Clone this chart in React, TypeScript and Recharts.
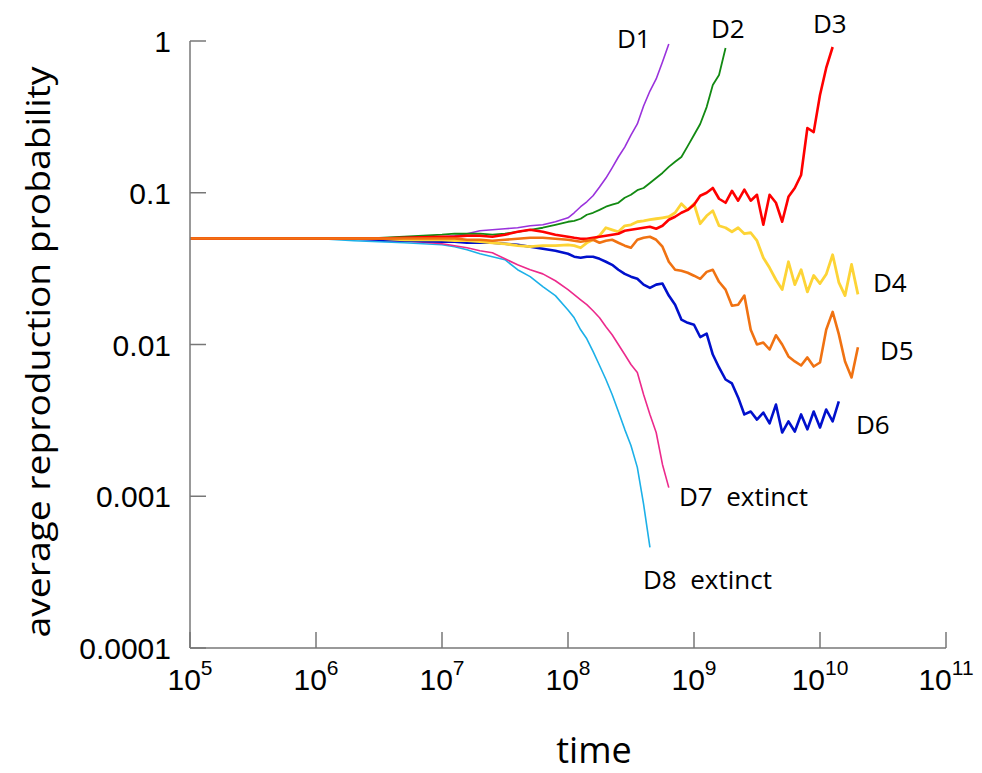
import { LineChart, Line, XAxis, YAxis } from 'recharts';

// time grid (shared by every run)
const times = [
  1e5, 1e6, 2e6, 3.16e6, 5.01e6, 1e7, 1.26e7, 1.58e7, 2e7, 2.51e7, 3.16e7, 3.98e7, 5.01e7, 6.31e7, 7.94e7,
  1e8, 1.12e8, 1.26e8, 1.41e8, 1.58e8, 1.78e8, 2e8, 2.24e8, 2.51e8, 2.82e8, 3.16e8, 3.55e8, 3.98e8, 4.47e8, 5.01e8,
  5.62e8, 6.31e8, 7.08e8, 7.94e8, 8.91e8,
  1e9, 1.12e9, 1.26e9, 1.41e9, 1.58e9, 1.78e9, 2e9, 2.24e9, 2.51e9, 2.82e9, 3.16e9, 3.55e9, 3.98e9, 4.47e9, 5.01e9,
  5.62e9, 6.31e9, 7.08e9, 7.94e9, 8.91e9,
  1e10, 1.12e10, 1.26e10, 1.41e10, 1.58e10, 1.78e10, 2e10,
];

// average reproduction probability per run
const d1 = [0.05, 0.05, 0.05, 0.05, 0.0505, 0.0513, 0.0521, 0.0537, 0.0562, 0.057, 0.0579, 0.0588, 0.0606, 0.0615, 0.0644,
  0.0684, 0.0738, 0.0809, 0.0872, 0.0955, 0.109, 0.125, 0.146, 0.172, 0.2, 0.24, 0.284, 0.373, 0.468, 0.562, 0.727, 0.955];
const d2 = [0.05, 0.05, 0.05, 0.0505, 0.0513, 0.0529, 0.0537, 0.0537, 0.0537, 0.0529, 0.0537, 0.0553, 0.057, 0.0588, 0.0615,
  0.0644, 0.0653, 0.0674, 0.0716, 0.0738, 0.0771, 0.0809, 0.0834, 0.0859, 0.0927, 0.097, 0.104, 0.1075, 0.116, 0.125,
  0.135, 0.148, 0.16, 0.172, 0.203, 0.24, 0.284, 0.367, 0.513, 0.597, 0.9];
const d3 = [0.05, 0.05, 0.05, 0.05, 0.0505, 0.0513, 0.0513, 0.0521, 0.0521, 0.0513, 0.0529, 0.0553, 0.057, 0.0553, 0.0529,
  0.0513, 0.0505, 0.0498, 0.0498, 0.0505, 0.0513, 0.0521, 0.0529, 0.0537, 0.0562, 0.057, 0.0579, 0.0588, 0.0597, 0.0579,
  0.0606, 0.0664, 0.0695, 0.0738, 0.0771, 0.0834, 0.0955, 0.1, 0.1075, 0.0913, 0.0859, 0.103, 0.0886, 0.105, 0.0886,
  0.097, 0.0615, 0.097, 0.0859, 0.0644, 0.094, 0.1075, 0.131, 0.267, 0.251, 0.441, 0.664, 0.913];
const d4 = [0.05, 0.05, 0.05, 0.05, 0.049, 0.049, 0.0483, 0.0483, 0.0476, 0.0468, 0.0461, 0.0448, 0.0441, 0.0448, 0.0448,
  0.0454, 0.0448, 0.0434, 0.0468, 0.049, 0.0521, 0.0588, 0.057, 0.0553, 0.0606, 0.0615, 0.0644, 0.0653, 0.0664, 0.0674,
  0.0684, 0.0695, 0.0738, 0.0846, 0.0771, 0.0846, 0.0625, 0.0705, 0.0761, 0.0606, 0.0588, 0.0553, 0.0588, 0.0537, 0.0545,
  0.0483, 0.0373, 0.032, 0.0267, 0.023, 0.0351, 0.0248, 0.0311, 0.0222, 0.0285, 0.0252, 0.029, 0.039, 0.0257, 0.021,
  0.0337, 0.0214];
const d5 = [0.05, 0.05, 0.05, 0.05, 0.05, 0.05, 0.05, 0.049, 0.049, 0.0483, 0.049, 0.0498, 0.0505, 0.0505, 0.0498,
  0.049, 0.0483, 0.0476, 0.0483, 0.049, 0.0468, 0.0483, 0.049, 0.0468, 0.0448, 0.0434, 0.049, 0.0505, 0.0513, 0.049,
  0.0441, 0.0351, 0.0311, 0.0306, 0.0297, 0.0284, 0.0271, 0.0301, 0.0311, 0.0259, 0.023, 0.018, 0.0183, 0.021, 0.0125,
  0.01, 0.0103, 0.00927, 0.0115, 0.01, 0.00834, 0.00773, 0.00727, 0.00822, 0.00716, 0.00761, 0.0125, 0.0164, 0.0117,
  0.00773, 0.00606, 0.0096];
const d6 = [0.05, 0.05, 0.05, 0.049, 0.0483, 0.0476, 0.0476, 0.0468, 0.0468, 0.0468, 0.0461, 0.0454, 0.0441, 0.0428, 0.0415,
  0.0396, 0.0379, 0.0373, 0.0379, 0.0379, 0.0367, 0.0351, 0.0335, 0.0311, 0.0292, 0.028, 0.0271, 0.0248, 0.0236, 0.0248,
  0.0252, 0.021, 0.0183, 0.0146, 0.0139, 0.0135, 0.0112, 0.0118, 0.00859, 0.00706, 0.00588, 0.00554, 0.00448, 0.00346,
  0.00362, 0.0032, 0.00356, 0.00302, 0.00402, 0.00263, 0.00311, 0.00267, 0.00346, 0.00276, 0.00362, 0.00284, 0.00373,
  0.00311, 0.00422];
const d7 = [0.05, 0.05, 0.05, 0.049, 0.0483, 0.0461, 0.0448, 0.0434, 0.0415, 0.0402, 0.0367, 0.0335, 0.0311, 0.0292, 0.0263,
  0.023, 0.0213, 0.0197, 0.0183, 0.0167, 0.015, 0.0131, 0.0116, 0.01, 0.00859, 0.00738, 0.00654, 0.00468, 0.00346, 0.00263,
  0.00162, 0.00114];
const d8 = [0.05, 0.05, 0.0483, 0.0476, 0.0468, 0.0454, 0.0441, 0.0421, 0.0396, 0.0379, 0.0362, 0.0311, 0.028, 0.0241, 0.021,
  0.0169, 0.015, 0.0125, 0.0109, 0.009, 0.00727, 0.00588, 0.00468, 0.00362, 0.00276, 0.00216, 0.00155, 0.000886, 0.000461];

const xTicks = [1e5, 1e6, 1e7, 1e8, 1e9, 1e10, 1e11];
const xTickExps = ['5', '6', '7', '8', '9', '10', '11'];
const yTicks = [0.0001, 0.001, 0.01, 0.1, 1];
const yTickLabels = ['0.0001', '0.001', '0.01', '0.1', '1'];

const SERIES = [
  { key: 'd1', values: d1, color: '#9a32dc', width: 1.6 },
  { key: 'd2', values: d2, color: '#128a12', width: 1.8 },
  { key: 'd8', values: d8, color: '#1cb0e8', width: 1.6 },
  { key: 'd7', values: d7, color: '#ec2a8c', width: 1.6 },
  { key: 'd6', values: d6, color: '#0010cc', width: 2.6 },
  { key: 'd4', values: d4, color: '#fdd436', width: 2.8 },
  { key: 'd3', values: d3, color: '#ff0000', width: 2.6 },
  { key: 'd5', values: d5, color: '#f07212', width: 2.6 },
];

const rows = times.map((t, i) => {
  const row: Record<string, number | null> = { t };
  SERIES.forEach((s) => { row[s.key] = s.values[i] ?? null; });
  return row;
});

const AXIS = '#777';
const TICK_FONT = '"Liberation Sans", Arial, sans-serif';
const TEXT_FONT = '"Open Sans", sans-serif';

function XTick({ x, y, index }: any) {
  return (
    <g>
      <line x1={x} x2={x} y1={y} y2={y - 16} stroke={AXIS} strokeWidth={1.5} />
      <text x={x} y={y + 42} textAnchor="middle" fontFamily={TICK_FONT} fontSize={30} fill="#000">
        10<tspan dy={-15} fontSize={21}>{xTickExps[index]}</tspan>
      </text>
    </g>
  );
}

function YTick({ x, y, index }: any) {
  return (
    <g>
      <line x1={x} x2={x + 16} y1={y} y2={y} stroke={AXIS} strokeWidth={1.5} />
      <text x={x - 19} y={y + 11} textAnchor="end" fontFamily={TICK_FONT} fontSize={30} fill="#000">
        {yTickLabels[index]}
      </text>
    </g>
  );
}

export default function App() {
  return (
    <div style={{ position: 'absolute', left: 0, top: 0, width: 982, height: 773, background: '#fff' }}>
      <LineChart width={982} height={773} data={rows} margin={{ top: 41, right: 36, bottom: 0, left: 0 }}>
        <XAxis
          dataKey="t" type="number" scale="log" domain={[1e5, 1e11]} ticks={xTicks} interval={0}
          allowDataOverflow height={125} tickSize={0} tickMargin={0} tickLine={false}
          axisLine={{ stroke: AXIS, strokeWidth: 1.5 }} tick={(p: any) => <XTick {...p} />}
        />
        <YAxis
          type="number" scale="log" domain={[0.0001, 1]} ticks={yTicks} interval={0}
          allowDataOverflow width={190} tickSize={0} tickMargin={0} tickLine={false}
          axisLine={{ stroke: AXIS, strokeWidth: 1.5 }} tick={(p: any) => <YTick {...p} />}
        />
        {SERIES.map((s) => (
          <Line
            key={s.key} dataKey={s.key} type="linear" stroke={s.color} strokeWidth={s.width}
            strokeLinejoin="round" dot={false} activeDot={false} isAnimationActive={false}
          />
        ))}
      </LineChart>
      <svg width={982} height={773} style={{ position: 'absolute', left: 0, top: 0, pointerEvents: 'none' }}>
        <g fontFamily={TEXT_FONT} fontSize={26} fill="#000">
          <text x={617} y={48}>D1</text>
          <text x={711} y={38}>D2</text>
          <text x={813} y={33}>D3</text>
          <text x={873} y={292}>D4</text>
          <text x={880} y={360}>D5</text>
          <text x={856} y={434}>D6</text>
          <text x={679} y={506}>{'D7\u00a0\u00a0extinct'}</text>
          <text x={643} y={589}>{'D8\u00a0\u00a0extinct'}</text>
        </g>
        <text
          transform="translate(37,352) rotate(-90)" textAnchor="middle" dominantBaseline="central"
          fontFamily={TEXT_FONT} fontSize={32} textLength={571} lengthAdjust="spacingAndGlyphs" fill="#000"
        >
          average reproduction probability
        </text>
        <text x={594} y={763} textAnchor="middle" fontFamily={TEXT_FONT} fontSize={36} fill="#000">time</text>
      </svg>
    </div>
  );
}
